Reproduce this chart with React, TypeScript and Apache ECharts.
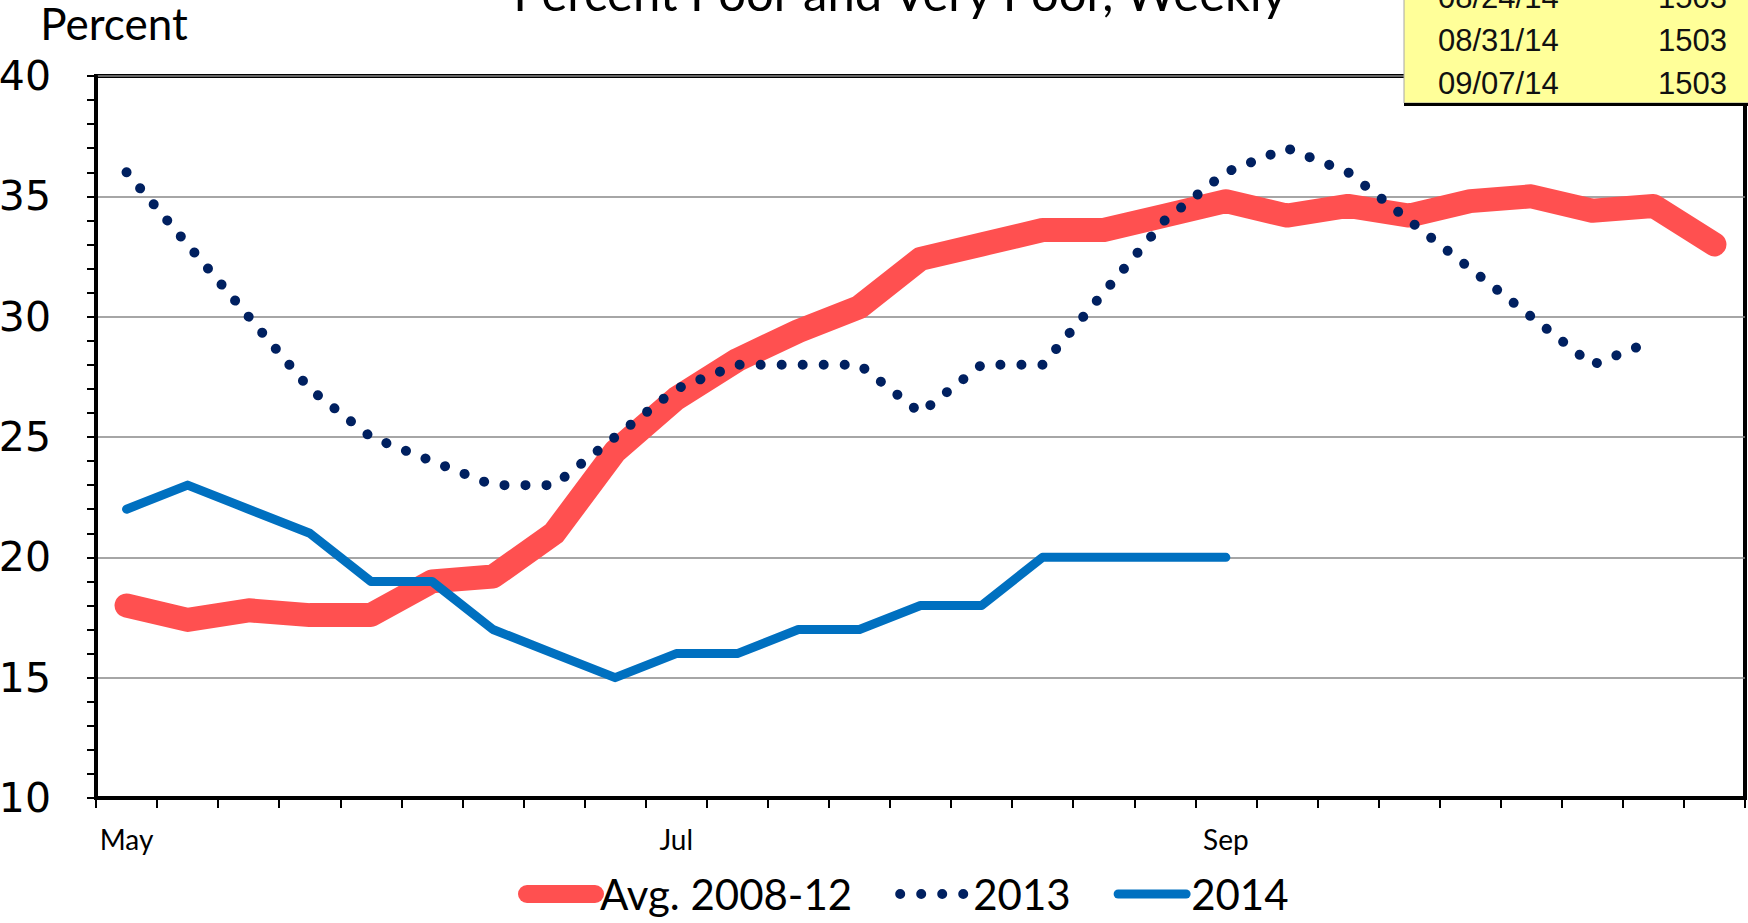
import React, { useEffect, useRef } from "react";
import * as echarts from "echarts";

const categories = ["May", "", "", "", "", "", "", "", "", "Jul", "", "", "", "", "", "", "", "", "Sep", "", "", "", "", "", "", "", ""];
const avg0812 = [18.0, 17.4, 17.8, 17.6, 17.6, 19.0, 19.2, 21.0, 24.4, 26.6, 28.2, 29.4, 30.4, 32.4, 33.0, 33.6, 33.6, 34.2, 34.8, 34.2, 34.6, 34.2, 34.8, 35.0, 34.4, 34.6, 33.0];
const y2013 = [36, 33, 30, 27, 25, 24, 23, 23, 25, 27, 28, 28, 28, 26, 28, 28, 31, 34, 36, 37, 36, 34, 32, 30, 28, 29, null];
const y2014 = [22, 23, 22, 21, 19, 19, 17, 16, 15, 16, 16, 17, 17, 18, 18, 20, 20, 20, 20, null, null, null, null, null, null, null, null];
const seriesNames = ["Avg. 2008-12", "2013", "2014"];
const tableDates = ["08/24/14", "08/31/14", "09/07/14"];
const tableValues = ["1503", "1503", "1503"];
const titleText = "Percent Poor and Very Poor, Weekly";
const yName = "Percent";

export default function App() {
  const ref = useRef<HTMLDivElement>(null);
  useEffect(() => {
    if (!ref.current) return;
    const chart = echarts.init(ref.current, null, { renderer: "svg" });
    const rowY = [-2.5, 40.5, 83.5];
    const Z = 100;
    const tableChildren: any[] = [
      { type: "rect", z: Z, shape: { x: 1404, y: -20, width: 360, height: 123 }, style: { fill: "#FFFF99", stroke: "#A6A6A6", lineWidth: 1 } },
      { type: "line", z: Z + 1, shape: { x1: 1404, y1: 104.5, x2: 1748, y2: 104.5 }, style: { stroke: "#000", lineWidth: 3 } },
    ];
    tableDates.forEach((d, i) => {
      tableChildren.push({ type: "text", z: Z + 2, x: 1438, y: rowY[i], style: { text: d, fill: "#111", font: "31px 'Liberation Sans'", align: "left", verticalAlign: "middle" } });
      tableChildren.push({ type: "text", z: Z + 2, x: 1727, y: rowY[i], style: { text: tableValues[i], fill: "#111", font: "31px 'Liberation Sans'", align: "right", verticalAlign: "middle" } });
    });
    chart.setOption({
      animation: false,
      backgroundColor: "#fff",
      grid: { left: 96, top: 76, width: 1649, height: 722, show: true, borderColor: "#000", borderWidth: 4, containLabel: false, outerBoundsMode: "none" },
      xAxis: {
        type: "category",
        data: categories,
        boundaryGap: true,
        axisLine: { lineStyle: { color: "#000", width: 4 } },
        axisTick: { show: true, interval: 0, length: 10, lineStyle: { color: "#000", width: 2 } },
        axisLabel: { interval: 0, margin: 27, fontFamily: "Lato", fontSize: 28, color: "#000" },
        splitLine: { show: false },
      },
      yAxis: {
        type: "value",
        min: 10,
        max: 40,
        interval: 5,
        axisLine: { show: true, lineStyle: { color: "#000", width: 4 } },
        axisTick: { show: true, length: 9, lineStyle: { color: "#000", width: 2 } },
        minorTick: { show: true, splitNumber: 5, length: 9, lineStyle: { color: "#000", width: 2 } },
        axisLabel: { margin: 45, fontFamily: "DejaVu Sans", fontSize: 41, color: "#000" },
        splitLine: { show: true, lineStyle: { color: "#888", width: 1.5 } },
      },
      legend: {
        left: 518,
        top: 873,
        padding: 0,
        itemGap: 43,
        itemWidth: 68,
        itemHeight: 20,
        textStyle: { fontFamily: "Lato", fontSize: 42, color: "#000" },
        data: [
          { name: seriesNames[0], itemStyle: { opacity: 0 }, lineStyle: { width: 18, cap: "round", color: "#FF5050" } },
          { name: seriesNames[1], itemStyle: { opacity: 0 }, lineStyle: { width: 10, type: [0.01, 21], cap: "round", color: "#002060" } },
          { name: seriesNames[2], itemStyle: { opacity: 0 }, lineStyle: { width: 9, cap: "round", color: "#0070C0" } },
        ],
      },
      series: [
        { name: seriesNames[0], type: "line", data: avg0812, symbol: "none", color: "#FF5050", lineStyle: { width: 24, color: "#FF5050", cap: "round", join: "round" } },
        { name: seriesNames[1], type: "line", data: y2013, symbol: "none", color: "#002060", lineStyle: { width: 10, color: "#002060", type: [0.01, 21], cap: "round", join: "round" } },
        { name: seriesNames[2], type: "line", data: y2014, symbol: "none", color: "#0070C0", lineStyle: { width: 9, color: "#0070C0", cap: "round", join: "round" } },
      ],
      graphic: [
        { type: "text", x: 900, y: -8, style: { text: titleText, fill: "#000", font: "49px Lato", align: "center", verticalAlign: "middle" } },
        { type: "text", x: 114, y: 23, style: { text: yName, fill: "#000", font: "44px Lato", align: "center", verticalAlign: "middle" } },
        ...tableChildren,
      ],
    });
    return () => chart.dispose();
  }, []);
  return <div ref={ref} style={{ position: "fixed", left: 0, top: 0, width: "1748px", height: "923px" }} />;
}
